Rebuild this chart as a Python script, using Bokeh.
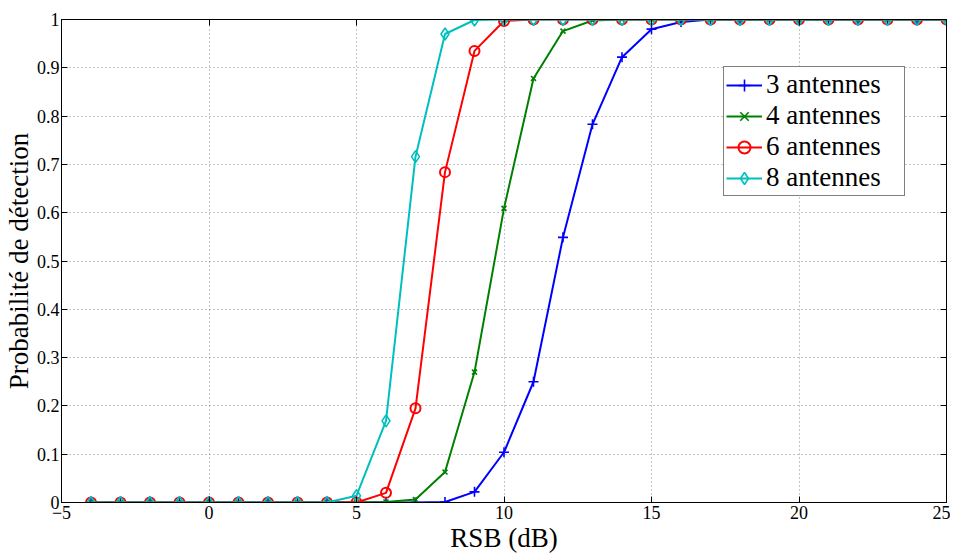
from bokeh.plotting import figure
from bokeh.models import Range1d, LinearAxis, FixedTicker, Legend
from bokeh.embed import file_html
from bokeh.resources import INLINE

snr = [-4, -3, -2, -1, 0, 1, 2, 3, 4, 5, 6, 7, 8, 9, 10, 11, 12, 13, 14, 15, 16, 17, 18, 19, 20, 21, 22, 23, 24, 25]
ant3 = [0, 0, 0, 0, 0, 0, 0, 0, 0, 0, 0, 0, 0.001, 0.022, 0.104, 0.25, 0.549, 0.783, 0.922, 0.98, 0.995, 1, 1, 1, 1, 1, 1, 1, 1, 1]
ant4 = [0, 0, 0, 0, 0, 0, 0, 0, 0, 0, 0.001, 0.006, 0.063, 0.27, 0.609, 0.878, 0.976, 0.998, 1, 1, 1, 1, 1, 1, 1, 1, 1, 1, 1, 1]
ant6 = [0, 0, 0, 0, 0, 0, 0, 0, 0, 0, 0.02, 0.195, 0.684, 0.935, 0.997, 1, 1, 1, 1, 1, 1, 1, 1, 1, 1, 1, 1, 1, 1, 1]
ant8 = [0, 0, 0, 0, 0, 0, 0, 0, 0, 0.014, 0.169, 0.716, 0.97, 0.999, 1, 1, 1, 1, 1, 1, 1, 1, 1, 1, 1, 1, 1, 1, 1, 1]
labels = ["3 antennes", "4 antennes", "6 antennes", "8 antennes"]
x_ticks = [-5, 0, 5, 10, 15, 20, 25]
y_ticks = [0, 0.1, 0.2, 0.3, 0.4, 0.5, 0.6, 0.7, 0.8, 0.9, 1]

FONT = "Liberation Serif"

p = figure(frame_width=885, frame_height=483, output_backend="svg", toolbar_location=None,
           x_range=Range1d(-5, 25), y_range=Range1d(0, 1),
           min_border_left=54, min_border_right=4, min_border_top=19, min_border_bottom=40)
p.outline_line_color = "black"
p.outline_line_width = 1

def style_axis(ax):
    ax.axis_line_color = "black"
    ax.major_tick_in = 6
    ax.major_tick_out = 0
    ax.minor_tick_in = 0
    ax.minor_tick_out = 0
    ax.major_tick_line_color = "black"
    ax.major_label_text_font = FONT
    ax.major_label_text_font_size = "18px"
    ax.major_label_text_color = "black"

xa = p.xaxis[0]
ya = p.yaxis[0]
xa.ticker = FixedTicker(ticks=x_ticks)
ya.ticker = FixedTicker(ticks=y_ticks)
xa.major_label_overrides = {-5: "\u22125"}
ya.major_label_overrides = {0: "0", 1: "1"}
style_axis(xa)
style_axis(ya)
xa.major_label_standoff = 3
ya.major_label_standoff = 2
xa.axis_label = "RSB (dB)"
ya.axis_label = "Probabilité de détection"
for ax in (xa, ya):
    ax.axis_label_text_font = FONT
    ax.axis_label_text_font_size = "27px"
    ax.axis_label_text_font_style = "normal"
    ax.axis_label_text_color = "black"
xa.axis_label_standoff = 1
ya.axis_label_standoff = 0

top = LinearAxis(ticker=FixedTicker(ticks=x_ticks))
right = LinearAxis(ticker=FixedTicker(ticks=y_ticks))
style_axis(top)
style_axis(right)
top.major_label_overrides = {t: "" for t in x_ticks}
right.major_label_overrides = {t: "" for t in y_ticks}
top.major_label_standoff = 0
right.major_label_standoff = 0
p.add_layout(top, "above")
p.add_layout(right, "right")

p.xgrid.ticker = FixedTicker(ticks=x_ticks)
p.ygrid.ticker = FixedTicker(ticks=y_ticks)
for g in (p.xgrid, p.ygrid):
    g.grid_line_color = "#8a8a8a"
    g.grid_line_dash = "1 3"
    g.grid_line_width = 1

series = [
    (ant3, "#0000FF", "cross", 10),
    (ant4, "#008000", "x", 7),
    (ant6, "#FF0000", "circle", 10),
    (ant8, "#00BFBF", "diamond", 12),
]
items = []
for (ys, col, mk, sz), lab in zip(series, labels):
    r1 = p.line(snr, ys, line_color=col, line_width=2)
    r2 = p.scatter(snr, ys, marker=mk, size=sz, line_color=col, fill_color=None,
                   line_width=2 if mk == "circle" else 1.6)
    items.append((lab, [r1, r2]))

leg = Legend(items=items, location=(662, 306))
leg.label_text_font = FONT
leg.label_text_font_size = "27px"
leg.label_text_color = "black"
leg.border_line_color = "black"
leg.border_line_width = 1
leg.background_fill_alpha = 1
leg.padding = 2
leg.spacing = 0
leg.label_height = 30
leg.glyph_height = 30
leg.glyph_width = 36
leg.label_standoff = 4
leg.label_width = 136
leg.margin = 0
p.add_layout(leg)

open("out.html", "w").write(file_html(p, INLINE))
